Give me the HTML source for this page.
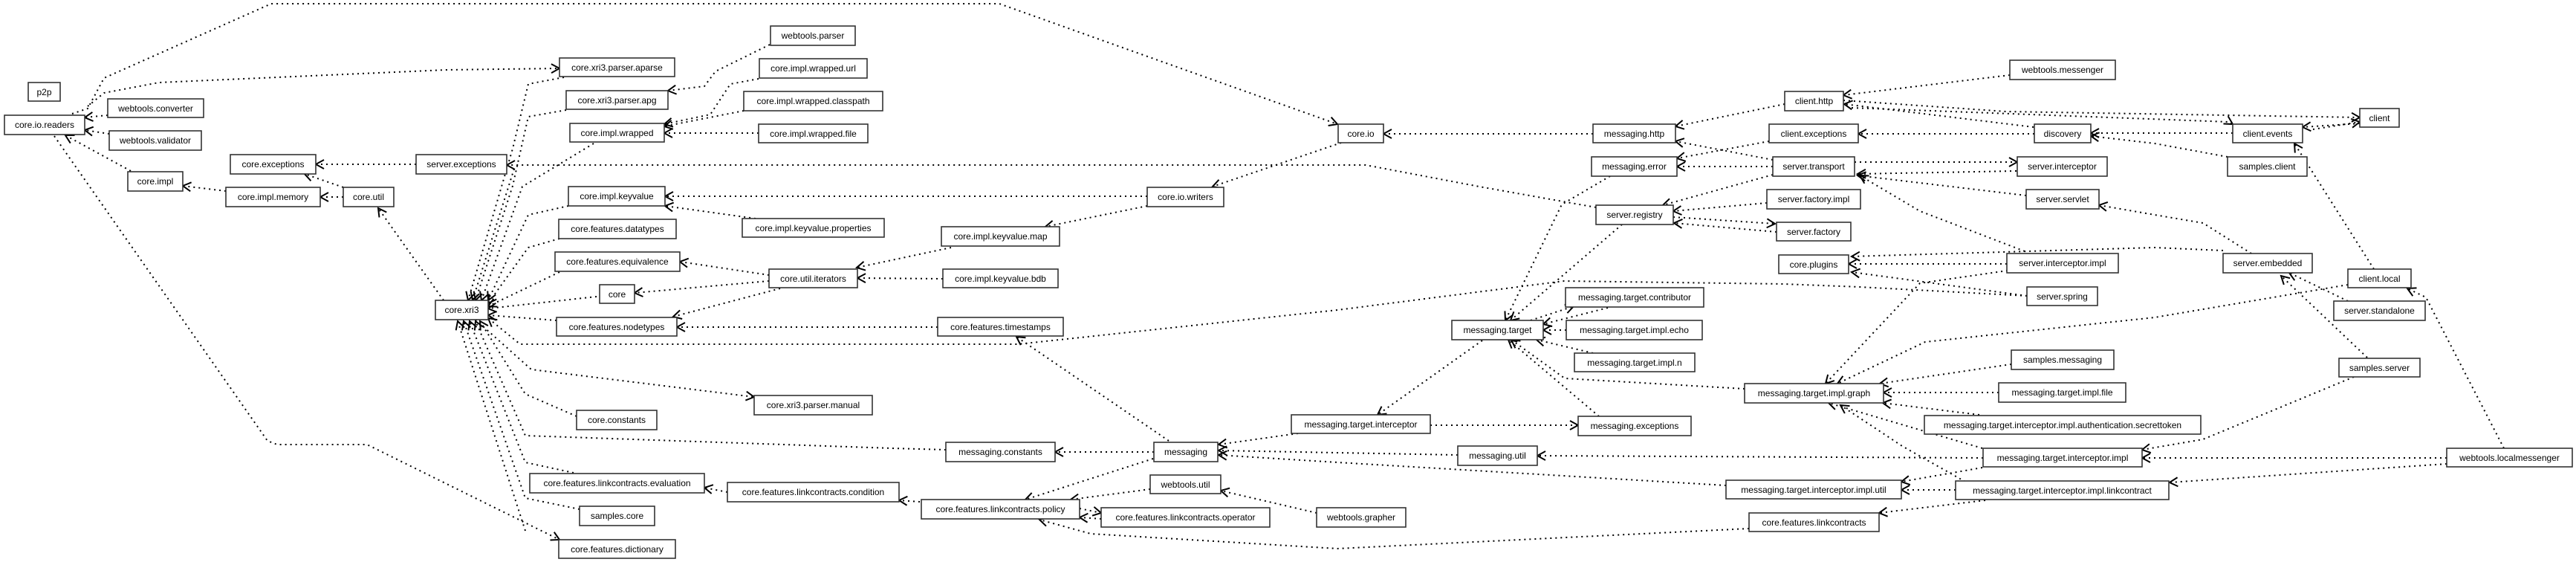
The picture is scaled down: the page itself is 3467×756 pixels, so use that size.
<!DOCTYPE html>
<html><head><meta charset="utf-8"><style>
html,body{margin:0;padding:0;background:#fff;}
svg{display:block}
text{font-family:"Liberation Sans",sans-serif;font-size:12px;fill:#000;text-anchor:middle}
rect{fill:#fff;stroke:#333;stroke-width:1.6}
path{fill:none;stroke:#000;stroke-width:2;stroke-dasharray:2 5}
</style></head><body>
<svg width="3467" height="756" viewBox="0 0 3467 756" xmlns="http://www.w3.org/2000/svg">
<defs><marker id="a" markerWidth="14" markerHeight="14" refX="12" refY="7" orient="auto" markerUnits="userSpaceOnUse"><path d="M1,1 L12,7 L1,13" style="fill:none;stroke:#000;stroke-width:2;stroke-dasharray:none"/></marker></defs>
<g marker-end="url(#a)">
<path d="M97,153 L118,146 L140,105 L365,5 L1345,5 L1800,167"/>
<path d="M118,143 L140,125 L214,111 L600,94 L753,92"/>
<path d="M145,155 L114,158"/>
<path d="M147,180 L114,175"/>
<path d="M176,230 L88,182"/>
<path d="M73,183 L360,593 L373,598 L494,598 L753,726"/>
<path d="M304,257 L246,250"/>
<path d="M462,265 L431,265"/>
<path d="M462,252 L410,234"/>
<path d="M560,221 L425,221"/>
<path d="M597,404 L509,280"/>
<path d="M759,104 L711,113 L690,200 L630,404"/>
<path d="M762,148 L711,157 L690,250 L640,404"/>
<path d="M799,193 L703,251 L648,404"/>
<path d="M692,227 L636,404"/>
<path d="M765,277 L711,289 L657,404"/>
<path d="M753,321 L711,333 L657,408"/>
<path d="M753,366 L657,412"/>
<path d="M803,399 L657,415"/>
<path d="M749,431 L657,424"/>
<path d="M2728,398 L2503,386 L2400,382 L2105,378 L1800,417 L1370,463 L700,463 L657,428"/>
<path d="M640,430 L715,497 L1015,534"/>
<path d="M776,560 L707,530 L646,432"/>
<path d="M1273,605 L1200,603 L707,586 L640,432"/>
<path d="M772,636 L707,622 L632,432"/>
<path d="M780,685 L707,670 L624,432"/>
<path d="M707,714 L616,432"/>
<path d="M1035,370 L915,352"/>
<path d="M1035,378 L854,394"/>
<path d="M1050,388 L906,426"/>
<path d="M1280,333 L1200,350 L1153,360"/>
<path d="M1269,375 L1154,374"/>
<path d="M1262,440 L911,440"/>
<path d="M1017,294 L895,277"/>
<path d="M1544,264 L895,264"/>
<path d="M1544,277 L1407,305"/>
<path d="M1805,192 L1632,251"/>
<path d="M1036,60 L963,96 L948,116 L899,122"/>
<path d="M1021,106 L983,113 L956,154 L894,167"/>
<path d="M1001,149 L894,170"/>
<path d="M1021,179 L894,179"/>
<path d="M2144,180 L1862,180"/>
<path d="M1553,608 L1420,608"/>
<path d="M1573,593 L1368,453"/>
<path d="M1552,617 L1380,672"/>
<path d="M1747,583 L1640,598"/>
<path d="M1962,612 L1640,606"/>
<path d="M2323,653 L1800,622 L1640,612"/>
<path d="M1548,658 L1441,672"/>
<path d="M1453,684 L1482,690"/>
<path d="M1482,698 L1453,696"/>
<path d="M1772,690 L1643,660"/>
<path d="M2354,711 L1800,738 L1468,718 L1399,699"/>
<path d="M979,662 L948,656"/>
<path d="M1238,675 L1210,673"/>
<path d="M1995,458 L1854,558"/>
<path d="M1925,572 L2124,572"/>
<path d="M2167,237 L2102,275 L2026,431"/>
<path d="M2183,302 L2033,431"/>
<path d="M2164,414 L2077,436"/>
<path d="M2060,431 L2118,412"/>
<path d="M2108,444 L2077,444"/>
<path d="M2144,475 L2068,457"/>
<path d="M2348,523 L2106,509 L2034,457"/>
<path d="M2152,560 L2030,457"/>
<path d="M2402,140 L2255,170"/>
<path d="M2386,215 L2255,190"/>
<path d="M2381,190 L2257,213"/>
<path d="M2386,224 L2257,224"/>
<path d="M2386,235 L2238,276"/>
<path d="M2378,273 L2252,284"/>
<path d="M2252,292 L2389,301"/>
<path d="M2391,312 L2253,300"/>
<path d="M2148,279 L1991,251 L1838,222 L682,222"/>
<path d="M2705,101 L2481,128"/>
<path d="M2737,171 L2482,140"/>
<path d="M2738,180 L2501,180"/>
<path d="M2492,145 L3000,164 L3005,167"/>
<path d="M2481,135 L2700,150 L3176,158"/>
<path d="M3113,174 L3176,164"/>
<path d="M3176,166 L3099,171"/>
<path d="M3005,179 L2814,179"/>
<path d="M2998,211 L2900,193 L2814,183"/>
<path d="M2496,218 L2715,218"/>
<path d="M2714,230 L2500,234"/>
<path d="M2727,263 L2500,236"/>
<path d="M2725,338 L2584,284 L2503,236"/>
<path d="M3030,341 L2965,300 L2900,289 L2825,276"/>
<path d="M2992,337 L2900,333 L2492,345"/>
<path d="M2701,355 L2488,355"/>
<path d="M2728,398 L2492,366"/>
<path d="M2702,364 L2584,381 L2457,516"/>
<path d="M3160,383 L2900,427 L2591,460 L2473,516"/>
<path d="M3160,405 L3081,367"/>
<path d="M3186,481 L3070,371"/>
<path d="M3195,362 L3088,193"/>
<path d="M3370,603 L3265,400 L3240,388"/>
<path d="M3293,616 L2883,616"/>
<path d="M3293,624 L2920,649"/>
<path d="M3168,507 L2965,591 L2883,605"/>
<path d="M2707,490 L2530,516"/>
<path d="M2690,528 L2535,528"/>
<path d="M2664,558 L2534,542"/>
<path d="M2668,603 L2461,542"/>
<path d="M2645,648 L2560,600 L2477,545"/>
<path d="M2669,616 L2069,613"/>
<path d="M2668,629 L2559,648"/>
<path d="M2632,659 L2559,659"/>
<path d="M2672,673 L2529,690"/>
</g>
<g>
<rect x="38" y="111" width="43" height="25"/><text x="59.5" y="128">p2p</text>
<rect x="6" y="155" width="108" height="26"/><text x="60" y="172">core.io.readers</text>
<rect x="145" y="133" width="129" height="25"/><text x="209.5" y="150">webtools.converter</text>
<rect x="147" y="176" width="124" height="26"/><text x="209" y="193">webtools.validator</text>
<rect x="172" y="231" width="74" height="26"/><text x="209" y="248">core.impl</text>
<rect x="310" y="208" width="115" height="26"/><text x="367.5" y="225">core.exceptions</text>
<rect x="304" y="252" width="127" height="26"/><text x="367.5" y="269">core.impl.memory</text>
<rect x="462" y="252" width="68" height="26"/><text x="496" y="269">core.util</text>
<rect x="560" y="208" width="122" height="26"/><text x="621" y="225">server.exceptions</text>
<rect x="1037" y="35" width="114" height="26"/><text x="1094" y="52">webtools.parser</text>
<rect x="753" y="78" width="155" height="25"/><text x="830.5" y="95">core.xri3.parser.aparse</text>
<rect x="1022" y="79" width="145" height="26"/><text x="1094.5" y="96">core.impl.wrapped.url</text>
<rect x="762" y="122" width="137" height="25"/><text x="830.5" y="139">core.xri3.parser.apg</text>
<rect x="1001" y="123" width="187" height="26"/><text x="1094.5" y="140">core.impl.wrapped.classpath</text>
<rect x="767" y="166" width="127" height="25"/><text x="830.5" y="183">core.impl.wrapped</text>
<rect x="1021" y="167" width="147" height="25"/><text x="1094.5" y="184">core.impl.wrapped.file</text>
<rect x="765" y="251" width="130" height="26"/><text x="830" y="268">core.impl.keyvalue</text>
<rect x="999" y="294" width="191" height="25"/><text x="1094.5" y="311">core.impl.keyvalue.properties</text>
<rect x="752" y="295" width="158" height="26"/><text x="831" y="312">core.features.datatypes</text>
<rect x="747" y="339" width="168" height="26"/><text x="831" y="356">core.features.equivalence</text>
<rect x="1035" y="362" width="119" height="25"/><text x="1094.5" y="379">core.util.iterators</text>
<rect x="807" y="383" width="47" height="25"/><text x="830.5" y="400">core</text>
<rect x="586" y="404" width="71" height="26"/><text x="621.5" y="421">core.xri3</text>
<rect x="749" y="427" width="162" height="25"/><text x="830" y="444">core.features.nodetypes</text>
<rect x="1015" y="532" width="159" height="26"/><text x="1094.5" y="549">core.xri3.parser.manual</text>
<rect x="776" y="552" width="108" height="26"/><text x="830" y="569">core.constants</text>
<rect x="713" y="637" width="235" height="26"/><text x="830.5" y="654">core.features.linkcontracts.evaluation</text>
<rect x="979" y="649" width="231" height="26"/><text x="1094.5" y="666">core.features.linkcontracts.condition</text>
<rect x="780" y="681" width="101" height="26"/><text x="830.5" y="698">samples.core</text>
<rect x="752" y="726" width="157" height="25"/><text x="830.5" y="743">core.features.dictionary</text>
<rect x="1544" y="252" width="103" height="26"/><text x="1595.5" y="269">core.io.writers</text>
<rect x="1267" y="305" width="159" height="26"/><text x="1346.5" y="322">core.impl.keyvalue.map</text>
<rect x="1269" y="362" width="155" height="25"/><text x="1346.5" y="379">core.impl.keyvalue.bdb</text>
<rect x="1262" y="427" width="169" height="25"/><text x="1346.5" y="444">core.features.timestamps</text>
<rect x="1273" y="595" width="147" height="26"/><text x="1346.5" y="612">messaging.constants</text>
<rect x="1553" y="595" width="86" height="26"/><text x="1596" y="612">messaging</text>
<rect x="1548" y="639" width="95" height="25"/><text x="1595.5" y="656">webtools.util</text>
<rect x="1240" y="672" width="213" height="26"/><text x="1346.5" y="689">core.features.linkcontracts.policy</text>
<rect x="1482" y="683" width="227" height="26"/><text x="1595.5" y="700">core.features.linkcontracts.operator</text>
<rect x="1772" y="683" width="120" height="26"/><text x="1832" y="700">webtools.grapher</text>
<rect x="1738" y="558" width="187" height="25"/><text x="1831.5" y="575">messaging.target.interceptor</text>
<rect x="1801" y="167" width="61" height="25"/><text x="1831.5" y="184">core.io</text>
<rect x="2144" y="167" width="111" height="25"/><text x="2199.5" y="184">messaging.http</text>
<rect x="2142" y="211" width="115" height="26"/><text x="2199.5" y="228">messaging.error</text>
<rect x="2148" y="276" width="104" height="26"/><text x="2200" y="293">server.registry</text>
<rect x="2107" y="387" width="186" height="26"/><text x="2200" y="404">messaging.target.contributor</text>
<rect x="1954" y="431" width="123" height="26"/><text x="2015.5" y="448">messaging.target</text>
<rect x="2108" y="431" width="183" height="26"/><text x="2199.5" y="448">messaging.target.impl.echo</text>
<rect x="2119" y="475" width="162" height="25"/><text x="2200" y="492">messaging.target.impl.n</text>
<rect x="2124" y="560" width="152" height="26"/><text x="2200" y="577">messaging.exceptions</text>
<rect x="1962" y="600" width="107" height="26"/><text x="2015.5" y="617">messaging.util</text>
<rect x="2348" y="516" width="187" height="26"/><text x="2441.5" y="533">messaging.target.impl.graph</text>
<rect x="2323" y="646" width="236" height="25"/><text x="2441" y="663">messaging.target.interceptor.impl.util</text>
<rect x="2354" y="690" width="175" height="25"/><text x="2441.5" y="707">core.features.linkcontracts</text>
<rect x="2705" y="81" width="142" height="26"/><text x="2776" y="98">webtools.messenger</text>
<rect x="2402" y="123" width="79" height="26"/><text x="2441.5" y="140">client.http</text>
<rect x="2381" y="167" width="120" height="25"/><text x="2441" y="184">client.exceptions</text>
<rect x="2738" y="167" width="76" height="25"/><text x="2776" y="184">discovery</text>
<rect x="2386" y="211" width="110" height="26"/><text x="2441" y="228">server.transport</text>
<rect x="2715" y="211" width="121" height="26"/><text x="2775.5" y="228">server.interceptor</text>
<rect x="2378" y="255" width="126" height="26"/><text x="2441" y="272">server.factory.impl</text>
<rect x="2727" y="255" width="98" height="26"/><text x="2776" y="272">server.servlet</text>
<rect x="2391" y="299" width="100" height="25"/><text x="2441" y="316">server.factory</text>
<rect x="2394" y="343" width="94" height="25"/><text x="2441" y="360">core.plugins</text>
<rect x="2701" y="341" width="150" height="26"/><text x="2776" y="358">server.interceptor.impl</text>
<rect x="2728" y="386" width="95" height="25"/><text x="2775.5" y="403">server.spring</text>
<rect x="2707" y="471" width="138" height="26"/><text x="2776" y="488">samples.messaging</text>
<rect x="2690" y="515" width="171" height="26"/><text x="2775.5" y="532">messaging.target.impl.file</text>
<rect x="2590" y="559" width="372" height="25"/><text x="2776" y="576">messaging.target.interceptor.impl.authentication.secrettoken</text>
<rect x="2669" y="603" width="214" height="25"/><text x="2776" y="620">messaging.target.interceptor.impl</text>
<rect x="2632" y="647" width="287" height="25"/><text x="2775.5" y="664">messaging.target.interceptor.impl.linkcontract</text>
<rect x="3176" y="146" width="53" height="25"/><text x="3202.5" y="163">client</text>
<rect x="3005" y="167" width="94" height="25"/><text x="3052" y="184">client.events</text>
<rect x="2998" y="211" width="107" height="26"/><text x="3051.5" y="228">samples.client</text>
<rect x="2992" y="341" width="120" height="26"/><text x="3052" y="358">server.embedded</text>
<rect x="3160" y="362" width="85" height="25"/><text x="3202.5" y="379">client.local</text>
<rect x="3141" y="405" width="123" height="26"/><text x="3202.5" y="422">server.standalone</text>
<rect x="3148" y="482" width="109" height="25"/><text x="3202.5" y="499">samples.server</text>
<rect x="3293" y="603" width="169" height="25"/><text x="3377.5" y="620">webtools.localmessenger</text>
</g>
</svg>
</body></html>
